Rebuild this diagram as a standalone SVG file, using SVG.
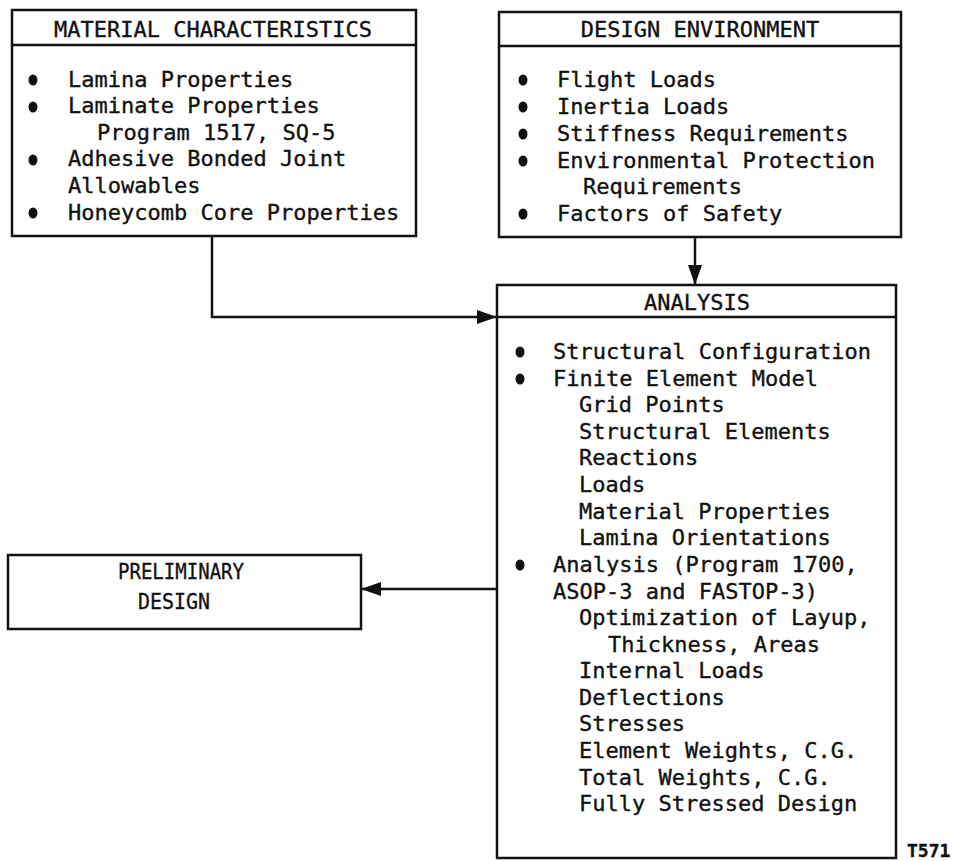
<svg xmlns="http://www.w3.org/2000/svg" width="954" height="861" viewBox="0 0 954 861">
<style>
.box{fill:#fff;stroke:#111;stroke-width:2.5}
.sep{stroke:#111;stroke-width:2.5}
.t{font-family:"DejaVu Sans Mono","Liberation Mono",monospace;font-size:22px;fill:#111;stroke:#111;stroke-width:0.35}
.h{text-anchor:middle}
.c{stroke:#111;stroke-width:2.5;fill:none}
.dot{fill:#111}
</style>
<defs>
<marker id="ah" viewBox="0 0 20 14" refX="20" refY="7" markerWidth="20" markerHeight="14" markerUnits="userSpaceOnUse" orient="auto">
<path d="M0,0 L20,7 L0,14 Z" fill="#111"/>
</marker>
</defs>
<rect width="954" height="861" fill="#fff"/>

<g id="material">
<rect class="box" x="12" y="10" width="404" height="226"/>
<line class="sep" x1="12" y1="45" x2="416" y2="45"/>
<text class="t h" x="213" y="37">MATERIAL CHARACTERISTICS</text>
<ellipse class="dot" cx="33" cy="80" rx="4.5" ry="5.5"/>
<ellipse class="dot" cx="33" cy="107" rx="4.5" ry="5.5"/>
<ellipse class="dot" cx="33" cy="160" rx="4.5" ry="5.5"/>
<ellipse class="dot" cx="33" cy="213" rx="4.5" ry="5.5"/>
<text class="t" x="68" y="87">Lamina Properties</text>
<text class="t" x="68" y="113">Laminate Properties</text>
<text class="t" x="97" y="140">Program 1517, SQ-5</text>
<text class="t" x="68" y="166">Adhesive Bonded Joint</text>
<text class="t" x="68" y="193">Allowables</text>
<text class="t" x="68" y="220">Honeycomb Core Properties</text>
</g>

<g id="design-environment">
<rect class="box" x="499" y="12" width="402" height="225"/>
<line class="sep" x1="499" y1="46" x2="901" y2="46"/>
<text class="t h" x="700" y="37">DESIGN ENVIRONMENT</text>
<ellipse class="dot" cx="523" cy="80" rx="4.5" ry="5.5"/>
<ellipse class="dot" cx="523" cy="107" rx="4.5" ry="5.5"/>
<ellipse class="dot" cx="523" cy="134" rx="4.5" ry="5.5"/>
<ellipse class="dot" cx="523" cy="161" rx="4.5" ry="5.5"/>
<ellipse class="dot" cx="523" cy="214" rx="4.5" ry="5.5"/>
<text class="t" x="557" y="87">Flight Loads</text>
<text class="t" x="557" y="114">Inertia Loads</text>
<text class="t" x="557" y="141">Stiffness Requirements</text>
<text class="t" x="557" y="168">Environmental Protection</text>
<text class="t" x="583" y="194">Requirements</text>
<text class="t" x="557" y="221">Factors of Safety</text>
</g>

<g id="analysis">
<rect class="box" x="497" y="285" width="399" height="573"/>
<line class="sep" x1="497" y1="317" x2="896" y2="317"/>
<text class="t h" x="697" y="310">ANALYSIS</text>
<ellipse class="dot" cx="520" cy="352" rx="4.5" ry="5.5"/>
<ellipse class="dot" cx="520" cy="379" rx="4.5" ry="5.5"/>
<ellipse class="dot" cx="520" cy="565" rx="4.5" ry="5.5"/>
<text class="t" x="553" y="359">Structural Configuration</text>
<text class="t" x="553" y="386">Finite Element Model</text>
<text class="t" x="579" y="412">Grid Points</text>
<text class="t" x="579" y="439">Structural Elements</text>
<text class="t" x="579" y="465">Reactions</text>
<text class="t" x="579" y="492">Loads</text>
<text class="t" x="579" y="519">Material Properties</text>
<text class="t" x="579" y="545">Lamina Orientations</text>
<text class="t" x="553" y="572">Analysis (Program 1700,</text>
<text class="t" x="553" y="599">ASOP-3 and FASTOP-3)</text>
<text class="t" x="579" y="625">Optimization of Layup,</text>
<text class="t" x="608" y="652">Thickness, Areas</text>
<text class="t" x="579" y="678">Internal Loads</text>
<text class="t" x="579" y="705">Deflections</text>
<text class="t" x="579" y="731">Stresses</text>
<text class="t" x="579" y="758">Element Weights, C.G.</text>
<text class="t" x="579" y="785">Total Weights, C.G.</text>
<text class="t" x="579" y="811">Fully Stressed Design</text>
</g>

<g id="preliminary-design">
<rect class="box" x="8" y="555" width="353" height="74"/>
<text class="t h" x="181" y="579" textLength="126" lengthAdjust="spacingAndGlyphs">PRELIMINARY</text>
<text class="t h" x="174" y="609" textLength="72" lengthAdjust="spacingAndGlyphs">DESIGN</text>
</g>

<g id="connectors">
<polyline class="c" points="212,236 212,317 497,317" marker-end="url(#ah)"/>
<line class="c" x1="695" y1="237" x2="695" y2="285" marker-end="url(#ah)"/>
<line class="c" x1="497" y1="589" x2="361" y2="589" marker-end="url(#ah)"/>
</g>

<text class="t" x="907" y="857" style="font-size:18px;font-weight:bold">T571</text>
</svg>
